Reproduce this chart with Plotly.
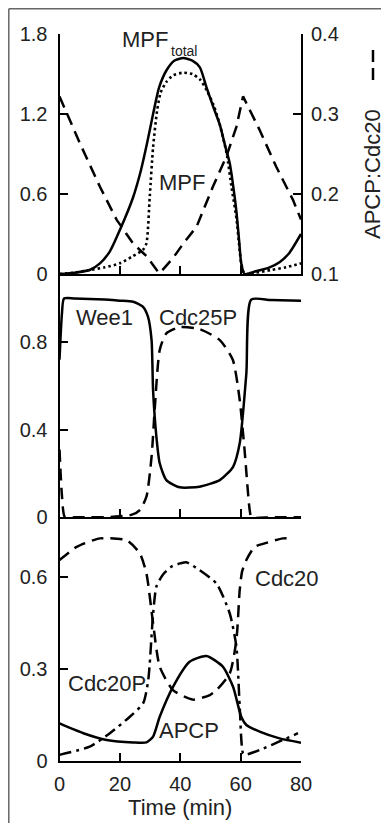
import plotly.graph_objects as go

# ---------------- data ----------------
# Panel 1: MPF_total, MPF (left axis), APCP:Cdc20 (right axis)
t_mpft = [0, 5, 10, 13.4, 16.7, 20, 24.3, 27, 29, 31, 33, 35.5, 38, 41, 44, 46.5, 48.7, 51, 53.1, 55, 56.4, 57.6, 58.6, 59.5, 60.2, 61.3, 65, 69.6, 73, 76.2, 80]
v_mpft = [0, 0.01, 0.03, 0.08, 0.17, 0.33, 0.57, 0.78, 0.98, 1.2, 1.4, 1.53, 1.6, 1.62, 1.6, 1.55, 1.4, 1.25, 1.12, 0.95, 0.83, 0.65, 0.47, 0.25, 0.08, 0.0, 0.02, 0.05, 0.09, 0.16, 0.3]

t_mpf = [0, 5, 10, 15, 20, 24, 27.6, 28.8, 29.9, 31, 32.3, 33.5, 35.4, 37.6, 40.9, 44, 46.5, 48.7, 51, 53.1, 55.4, 57, 58.6, 59.5, 60.2, 61.3, 65, 70, 75, 80]
v_mpf = [0, 0.01, 0.03, 0.05, 0.08, 0.13, 0.18, 0.23, 0.58, 0.95, 1.22, 1.36, 1.44, 1.49, 1.51, 1.5, 1.46, 1.38, 1.27, 1.12, 0.9, 0.65, 0.42, 0.22, 0.08, 0.0, 0.01, 0.03, 0.05, 0.08]

t_apcdc = [0, 6.8, 13.4, 18.9, 24.4, 28.9, 32.2, 33.2, 37.6, 41, 45.4, 50.8, 55.3, 58.6, 60.8, 66.3, 71.8, 77.3, 80]
v_apcdc = [0.322, 0.263, 0.209, 0.168, 0.138, 0.122, 0.105, 0.101, 0.12, 0.138, 0.159, 0.209, 0.247, 0.284, 0.322, 0.28, 0.234, 0.193, 0.168]

# Panel 2: Wee1, Cdc25P
t_wee1 = [0, 0.8, 1.5, 5, 10, 15, 20, 24.4, 27.6, 29.3, 30.5, 31, 32.1, 33.2, 35.4, 39.8, 46.4, 53.1, 57.5, 59.7, 61.9, 63.5, 70, 80]
v_wee1 = [0.72, 0.93, 1.0, 1.0, 0.998, 0.995, 0.99, 0.985, 0.963, 0.917, 0.81, 0.58, 0.368, 0.247, 0.17, 0.137, 0.14, 0.17, 0.231, 0.338, 0.658, 0.995, 0.993, 0.99]

t_cdc25 = [0, 0.8, 1.8, 5, 10, 15, 20, 24, 26.6, 28.8, 30.5, 31.6, 33.2, 35.4, 39.8, 46.4, 53.1, 57.4, 59.7, 61.3, 63, 63.6, 70, 80]
v_cdc25 = [0.31, 0.1, 0.0, 0.0, 0.0, 0.0, 0.005, 0.012, 0.033, 0.094, 0.277, 0.506, 0.765, 0.841, 0.869, 0.86, 0.81, 0.72, 0.536, 0.308, 0.033, 0.0, 0.0, 0.0]

# Panel 3: Cdc20, Cdc20P, APCP
t_cdc20 = [0, 5.7, 13.4, 22.2, 26.6, 28.8, 31, 33.2, 37.6, 44.2, 49.8, 52, 56.4, 58.6, 59.7, 60.5, 61.9, 64.6, 67.4, 74, 77.3]
v_cdc20 = [0.657, 0.70, 0.728, 0.722, 0.679, 0.613, 0.45, 0.308, 0.231, 0.2, 0.215, 0.231, 0.286, 0.395, 0.559, 0.62, 0.657, 0.70, 0.71, 0.728, 0.728]

t_cdc20p = [0, 10, 16.7, 23.3, 27.7, 29.4, 31, 32.1, 34.3, 37, 40, 42, 46.4, 52, 56.4, 58.6, 59.7, 60.8, 61.7, 66.3, 74, 79]
v_cdc20p = [0.019, 0.046, 0.09, 0.144, 0.188, 0.264, 0.48, 0.57, 0.61, 0.635, 0.646, 0.65, 0.624, 0.58, 0.482, 0.373, 0.177, 0.024, 0.02, 0.035, 0.068, 0.09]

t_apcp = [0, 7.9, 15.6, 24.4, 28.8, 31, 33.2, 37.6, 43.1, 48.7, 54.1, 57.5, 60.2, 61.9, 66.3, 72.9, 80]
v_apcp = [0.122, 0.09, 0.068, 0.06, 0.06, 0.079, 0.144, 0.242, 0.324, 0.343, 0.308, 0.242, 0.144, 0.117, 0.095, 0.073, 0.059]

x_ticks = [0, 20, 40, 60, 80]
y1_ticks = [0, 0.6, 1.2, 1.8]
y1_labels = ["0", "0.6", "1.2", "1.8"]
y1r_ticks = [0.1, 0.2, 0.3, 0.4]
y1r_labels = ["0.1", "0.2", "0.3", "0.4"]
y2_ticks = [0, 0.4, 0.8]
y2_labels = ["0", "0.4", "0.8"]
y3_ticks = [0, 0.3, 0.6]
y3_labels = ["0", "0.3", "0.6"]

# ---------------- layout geometry ----------------
# the page body has an 8px margin, so the figure starts at page (8, 8)
OFF = 8
W, H = 389 - OFF, 823 - OFF
def px(x):
    return (x - OFF) / W
def py(y):
    return 1 - (y - OFF) / H

X0, X1 = 59.5, 301.0
P1_TOP, P1_BOT = 34.0, 274.0
P2_BOT = 517.3
P3_BOT = 760.7

FONT = "Liberation Sans, Arial, sans-serif"
TXT = "#222222"
LW = 2.5
DASH = "12px,7px"
DOT = "2.5px,3px"
DASHDOT = "12px,5px,3px,5px"

fig = go.Figure()

def line(x, y, dash, xa, ya, w=LW, shape="spline"):
    fig.add_trace(go.Scatter(x=x, y=y, mode="lines", xaxis=xa, yaxis=ya,
                             line=dict(color="black", width=w, dash=dash, shape=shape, smoothing=0.6),
                             showlegend=False, hoverinfo="skip"))

line(t_mpft, v_mpft, "solid", "x", "y")
line(t_mpf, v_mpf, DOT, "x", "y", w=2.6)
line(t_apcdc, v_apcdc, DASH, "x", "y4", shape="linear")
line(t_wee1, v_wee1, "solid", "x2", "y2")
line(t_cdc25, v_cdc25, DASH, "x2", "y2")
line(t_cdc20, v_cdc20, DASH, "x3", "y3")
line(t_cdc20p, v_cdc20p, DASHDOT, "x3", "y3")
line(t_apcp, v_apcp, "solid", "x3", "y3")

tickfont = dict(family=FONT, size=20, color=TXT)
common_x = dict(range=[0, 80], domain=[px(X0), px(X1)], showline=True, linecolor="black",
                linewidth=2, ticks="inside", ticklen=8, tickwidth=2, tickcolor="black",
                tickvals=x_ticks, showgrid=False, zeroline=False, fixedrange=True,
                tickfont=tickfont, automargin=False)
common_y = dict(showline=True, linecolor="black", linewidth=2, ticks="inside", ticklen=8,
                tickwidth=2, tickcolor="black", showgrid=False, zeroline=False,
                tickfont=tickfont, fixedrange=True, automargin=False)

fig.update_layout(
    width=W, height=H, margin=dict(l=0, r=0, t=0, b=0, pad=0, autoexpand=False),
    paper_bgcolor="white", plot_bgcolor="white",
    font=dict(family=FONT, color=TXT),
    xaxis=dict(common_x, anchor="y", showticklabels=False),
    xaxis2=dict(common_x, anchor="y2", showticklabels=False),
    xaxis3=dict(common_x, anchor="y3", ticktext=[str(v) for v in x_ticks], ticklabelstandoff=4,
                title=dict(text="Time (min)", font=dict(family=FONT, size=22, color=TXT), standoff=2)),
    yaxis=dict(common_y, anchor="x", domain=[py(P1_BOT), py(P1_TOP)], range=[0, 1.8],
               tickvals=y1_ticks, ticktext=y1_labels, ticklabelstandoff=6),
    yaxis4=dict(common_y, anchor="x", overlaying="y", side="right", range=[0.1, 0.4],
                tickvals=y1r_ticks, ticktext=y1r_labels, ticklabelstandoff=4),
    yaxis2=dict(common_y, anchor="x2", domain=[py(P2_BOT), py(P1_BOT)], range=[0, 1.112],
                tickvals=y2_ticks, ticktext=y2_labels, ticklabelstandoff=6),
    yaxis3=dict(common_y, anchor="x3", domain=[py(P3_BOT), py(P2_BOT)], range=[0, 0.797],
                tickvals=y3_ticks, ticktext=y3_labels, ticklabelstandoff=6),
)

def label(text, x, y, xanchor="center", size=22):
    fig.add_annotation(text=text, x=px(x), y=py(y), xref="paper", yref="paper",
                       showarrow=False, font=dict(family=FONT, size=size, color=TXT),
                       xanchor=xanchor, yanchor="middle", borderpad=0)

label("MPF", 145, 40)
label("total", 184, 51, size=14)
label("MPF", 182, 183)
label("Wee1", 104.5, 317)
label("Cdc25P", 197.5, 317)
label("Cdc20", 286.5, 578)
label("Cdc20P", 107, 683)
label("APCP", 189, 730)

# right axis title with dashed key
fig.add_annotation(text="APCP:Cdc20", x=px(373), y=py(174), xref="paper", yref="paper",
                   showarrow=False, font=dict(family=FONT, size=22, color=TXT), textangle=-90,
                   xanchor="center", yanchor="middle")
fig.add_shape(type="line", xref="paper", yref="paper", x0=px(373), x1=px(373),
              y0=py(80), y1=py(49), line=dict(color="black", width=2.5, dash="12px,6px"))

# outer frame (top and left), drawn at the figure's edge
FR = OFF + 0.8
fig.add_shape(type="line", xref="paper", yref="paper", x0=px(FR), x1=1.0, y0=py(FR), y1=py(FR),
              line=dict(color="#666666", width=1.5))
fig.add_shape(type="line", xref="paper", yref="paper", x0=px(FR), x1=px(FR), y0=py(FR), y1=0,
              line=dict(color="#666666", width=1.5))

fig.write_html("out.html")
